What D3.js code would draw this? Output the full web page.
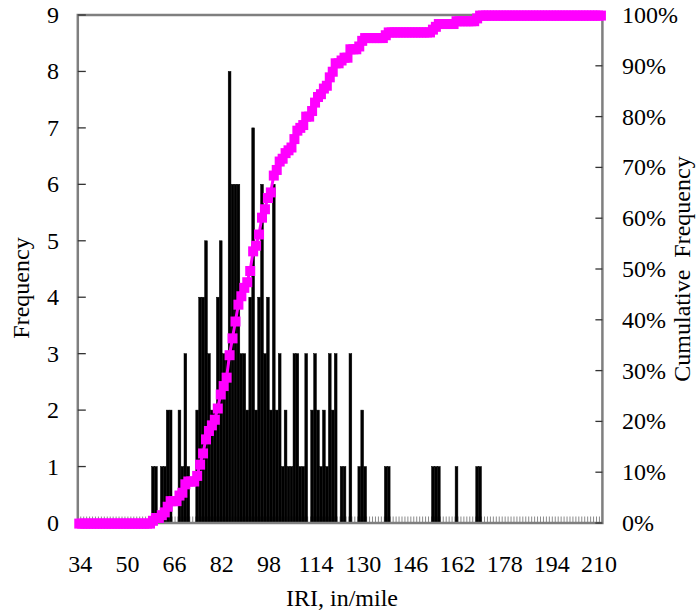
<!DOCTYPE html>
<html>
<head>
<meta charset="utf-8">
<script src="https://cdn.jsdelivr.net/npm/d3@7/dist/d3.min.js"></script>
<style>
  html, body { margin: 0; padding: 0; background: #ffffff; }
  svg { display: block; }
  text { font-family: "Liberation Serif", "Times New Roman", serif; fill: #000; }
</style>
</head>
<body>
<svg id="chart" width="696" height="613"></svg>
<script>
// IRI bins (in/mile), one category per integer value
const categories = d3.range(34, 212);

// Number of sections in each IRI bin, listed ten bins per row starting at 34
const frequency = [
  0, 0, 0, 0, 0, 0, 0, 0, 0, 0,   // 34-43
  0, 0, 0, 0, 0, 0, 0, 0, 0, 0,   // 44-53
  0, 0, 0, 0, 0, 1, 1, 0, 1, 1,   // 54-63
  2, 2, 0, 0, 2, 1, 3, 1, 0, 0,   // 64-73
  2, 4, 4, 5, 3, 2, 2, 4, 5, 3,   // 74-83
  3, 8, 6, 6, 6, 3, 3, 2, 4, 7,   // 84-93
  2, 4, 6, 3, 4, 2, 6, 2, 3, 1,   // 94-103
  2, 1, 1, 3, 3, 1, 1, 3, 0, 2,   // 104-113
  3, 2, 1, 2, 1, 3, 2, 3, 0, 1,   // 114-123
  1, 0, 3, 0, 0, 1, 2, 1, 0, 0,   // 124-133
  0, 0, 0, 0, 1, 1, 0, 0, 0, 0,   // 134-143
  0, 0, 0, 0, 0, 0, 0, 0, 0, 0,   // 144-153
  1, 1, 1, 0, 0, 0, 0, 0, 1, 0,   // 154-163
  0, 0, 0, 0, 0, 1, 1, 0, 0, 0,   // 164-173
  0, 0, 0, 0, 0, 0, 0, 0, 0, 0,   // 174-183
  0, 0, 0, 0, 0, 0, 0, 0, 0, 0,   // 184-193
  0, 0, 0, 0, 0, 0, 0, 0, 0, 0,   // 194-203
  0, 0, 0, 0, 0, 0, 0, 0          // 204-211
];

// Axis labels
const xTickLabels = [34, 50, 66, 82, 98, 114, 130, 146, 162, 178, 194, 210];
const freqTicks = [0, 1, 2, 3, 4, 5, 6, 7, 8, 9];
const pctTicks = [0, 10, 20, 30, 40, 50, 60, 70, 80, 90, 100];

// Cumulative share of sections up to and including each bin (%)
const total = d3.sum(frequency);
const cumulative = Array.from(d3.cumsum(frequency), v => v / total * 100);

const svg = d3.select("#chart");
const plot = { left: 77.8, right: 602.4, top: 15, bottom: 523 };

const x = d3.scaleBand().domain(categories).range([plot.left, plot.right]).padding(0);
const yFreq = d3.scaleLinear().domain([0, 9]).range([plot.bottom, plot.top]);
const yPct = d3.scaleLinear().domain([0, 100]).range([plot.bottom, plot.top]);
const bw = x.bandwidth();

// Category tick marks along the bottom, pointing into the plot
svg.append("g")
  .selectAll("line")
  .data(d3.range(categories.length + 1))
  .join("line")
  .attr("x1", i => plot.left + i * bw)
  .attr("x2", i => plot.left + i * bw)
  .attr("y1", plot.bottom)
  .attr("y2", plot.bottom - 6.5)
  .attr("stroke", "#8a8a8a")
  .attr("stroke-width", 1);

// Frequency bars
svg.append("g")
  .selectAll("rect")
  .data(categories.map((c, i) => ({ c, f: frequency[i] })).filter(d => d.f > 0))
  .join("rect")
  .attr("x", d => x(d.c) + 0.1)
  .attr("width", bw - 0.2)
  .attr("y", d => yFreq(d.f))
  .attr("height", d => yFreq(0) - yFreq(d.f))
  .attr("fill", "#000")
  .attr("stroke", "#000")
  .attr("stroke-width", 0.5);

// Plot frame (both value axes, the category axis and the top edge)
svg.append("rect")
  .attr("x", plot.left)
  .attr("y", plot.top)
  .attr("width", plot.right - plot.left)
  .attr("height", plot.bottom - plot.top)
  .attr("fill", "none")
  .attr("stroke", "#7f7f7f")
  .attr("stroke-width", 2.5);

// Inside tick marks on the frequency axis
svg.append("g")
  .selectAll("line")
  .data(freqTicks)
  .join("line")
  .attr("x1", plot.left)
  .attr("x2", plot.left + 8)
  .attr("y1", d => yFreq(d))
  .attr("y2", d => yFreq(d))
  .attr("stroke", "#333")
  .attr("stroke-width", 1.3);

// Inside tick marks on the cumulative axis
svg.append("g")
  .selectAll("line")
  .data(pctTicks)
  .join("line")
  .attr("x1", plot.right - 7)
  .attr("x2", plot.right)
  .attr("y1", d => yPct(d))
  .attr("y2", d => yPct(d))
  .attr("stroke", "#333")
  .attr("stroke-width", 1.3);

// Cumulative frequency line with square markers
const cumData = categories.map((c, i) => ({ c, p: cumulative[i] }));
svg.append("path")
  .datum(cumData)
  .attr("d", d3.line().x(d => x(d.c) + bw / 2).y(d => yPct(d.p)))
  .attr("fill", "none")
  .attr("stroke", "#ff00ff")
  .attr("stroke-width", 3);

const ms = 10;
svg.append("g")
  .selectAll("rect")
  .data(cumData)
  .join("rect")
  .attr("x", d => x(d.c) + bw / 2 - ms / 2)
  .attr("y", d => yPct(d.p) - ms / 2 + 0.6)
  .attr("width", ms)
  .attr("height", ms)
  .attr("fill", "#ff00ff");

// Tick labels
svg.append("g")
  .selectAll("text")
  .data(xTickLabels)
  .join("text")
  .attr("x", d => x(d) + bw / 2 + 1)
  .attr("y", 572)
  .attr("text-anchor", "middle")
  .attr("font-size", 24)
  .text(d => d);

svg.append("g")
  .selectAll("text")
  .data(freqTicks)
  .join("text")
  .attr("x", 59)
  .attr("y", d => yFreq(d) + 8)
  .attr("text-anchor", "end")
  .attr("font-size", 24)
  .text(d => d);

svg.append("g")
  .selectAll("text")
  .data(pctTicks)
  .join("text")
  .attr("x", 622)
  .attr("y", d => yPct(d) + 8)
  .attr("text-anchor", "start")
  .attr("font-size", 24)
  .text(d => d + "%");

// Axis titles
svg.append("text")
  .attr("x", 342)
  .attr("y", 606)
  .attr("text-anchor", "middle")
  .attr("font-size", 24)
  .text("IRI, in/mile");

svg.append("text")
  .attr("transform", "translate(29,288) rotate(-90)")
  .attr("text-anchor", "middle")
  .attr("font-size", 24)
  .text("Frequency");

svg.append("text")
  .attr("transform", "translate(690,269) rotate(-90)")
  .attr("text-anchor", "middle")
  .attr("font-size", 24)
  .attr("xml:space", "preserve")
  .style("white-space", "pre")
  .text("Cumulative  Frequency");
</script>
</body>
</html>
